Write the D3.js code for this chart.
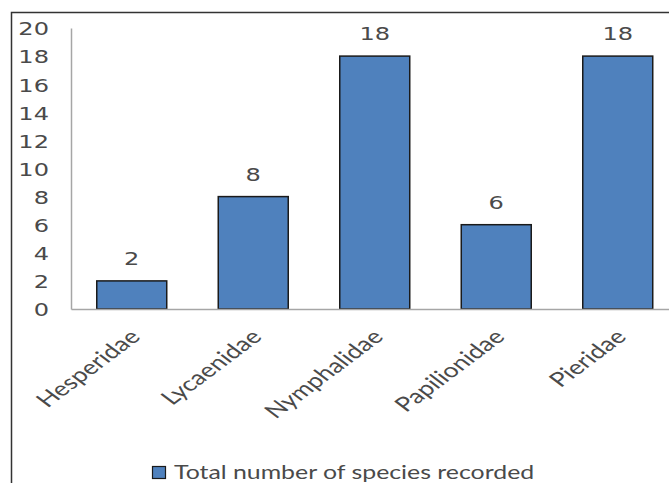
<!DOCTYPE html>
<html>
<head>
<meta charset="utf-8">
<script src="https://cdn.jsdelivr.net/npm/d3@7"></script>
<style>
  body { margin: 0; background: #fff; }
  svg { display: block; }
</style>
</head>
<body>
<script>
const width = 669;
const height = 483;

// data
const families = ['Hesperidae', 'Lycaenidae', 'Nymphalidae', 'Papilionidae', 'Pieridae'];
const speciesCount = [2, 8, 18, 6, 18];
const yTicks = [0, 2, 4, 6, 8, 10, 12, 14, 16, 18, 20];
const seriesName = 'Total number of species recorded';

// the picture is stretched sideways, so text is too
const sx = 1.337;
const textCol = '#4a4a4a';
const barFill = '#4F81BD';

const svg = d3.select('body').append('svg').attr('width', width).attr('height', height);

// chart area border (right and bottom are cut off)
svg.append('rect')
  .attr('x', 11.5).attr('y', 12.5)
  .attr('width', 700).attr('height', 500)
  .attr('fill', 'none').attr('stroke', '#333').attr('stroke-width', 1.5);

const x = d3.scaleBand().domain(families).range([71, 678.5]).paddingInner(0.424).paddingOuter(0.212);
const y = d3.scaleLinear().domain([0, 20]).range([309, 28]);

// y axis
const yAxis = svg.append('g')
  .attr('transform', 'translate(71,0)')
  .call(d3.axisLeft(y).tickValues(yTicks).tickSize(0).tickSizeOuter(0));
yAxis.select('.domain').attr('stroke', '#a6a6a6').attr('stroke-width', 1.5);
yAxis.selectAll('text')
  .attr('x', -22 / sx)
  .attr('dy', '0.38em')
  .attr('transform', `scale(${sx},1)`)
  .attr('fill', textCol)
  .style('font-family', 'DejaVu Sans')
  .style('font-size', '18px');

// bars
svg.append('g').selectAll('rect')
  .data(speciesCount)
  .enter()
  .append('rect')
  .attr('x', (d, i) => x(families[i]))
  .attr('y', d => y(d))
  .attr('width', x.bandwidth())
  .attr('height', d => y(0) - y(d))
  .attr('fill', barFill)
  .attr('stroke', '#1a1a1a')
  .attr('stroke-width', 1.5);

// x axis
const xAxis = svg.append('g')
  .attr('transform', `translate(0,${y(0)})`)
  .call(d3.axisBottom(x).tickSize(0).tickSizeOuter(0));
xAxis.select('.domain').attr('stroke', '#a6a6a6').attr('stroke-width', 1.5);
xAxis.selectAll('text')
  .attr('x', 0).attr('y', 0).attr('dy', 0)
  .attr('text-anchor', 'end')
  .attr('transform', `translate(10,29) scale(${sx},1) rotate(-45)`)
  .attr('fill', textCol)
  .style('font-family', 'Lato')
  .style('font-size', '20px');

// value labels
svg.append('g').selectAll('text')
  .data(speciesCount)
  .enter()
  .append('text')
  .attr('transform', (d, i) => `translate(${x(families[i]) + x.bandwidth() / 2},${y(d) - 16}) scale(${sx},1)`)
  .attr('text-anchor', 'middle')
  .attr('fill', textCol)
  .style('font-family', 'DejaVu Sans')
  .style('font-size', '18px')
  .text(d => d);

// legend
const legend = svg.append('g').attr('transform', 'translate(152,466)');
legend.append('rect')
  .attr('x', 0.5).attr('y', 0.5)
  .attr('width', 13).attr('height', 12)
  .attr('fill', barFill).attr('stroke', '#1a1a1a').attr('stroke-width', 1.2);
legend.append('text')
  .attr('transform', `translate(22,13) scale(${sx},1)`)
  .attr('fill', textCol)
  .style('font-family', 'Lato')
  .style('font-size', '18.6px')
  .text(seriesName);
</script>
</body>
</html>
